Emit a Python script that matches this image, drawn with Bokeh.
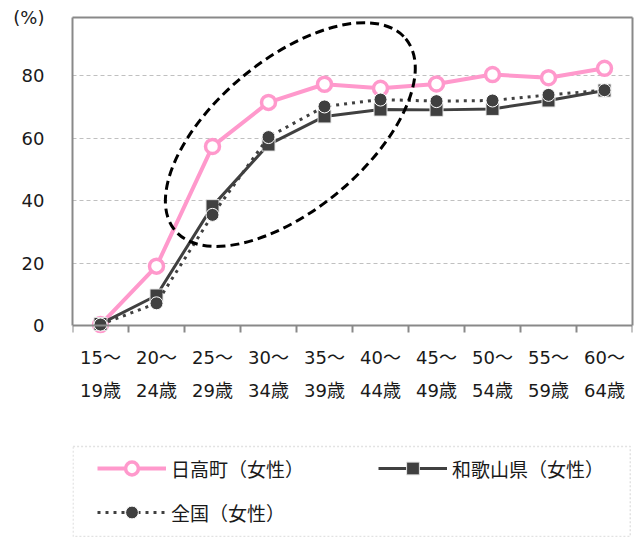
from bokeh.plotting import figure
from bokeh.models import (Range1d, FixedTicker, LinearAxis, Legend, LegendItem,
                          BoxAnnotation, Grid)
from bokeh.embed import file_html
from bokeh.resources import INLINE

# ---- data -------------------------------------------------------------
age_from = ["15～", "20～", "25～", "30～", "35～", "40～", "45～", "50～", "55～", "60～"]
age_to = ["19歳", "24歳", "29歳", "34歳", "39歳", "44歳", "49歳", "54歳", "59歳", "64歳"]
hidaka = [0.3, 19.0, 57.3, 71.4, 77.2, 75.9, 77.3, 80.3, 79.3, 82.3]
wakayama = [0.5, 9.6, 38.2, 57.9, 66.9, 69.1, 69.0, 69.3, 72.0, 75.2]
zenkoku = [0.3, 7.1, 35.4, 60.3, 70.1, 72.3, 71.8, 72.0, 73.8, 75.3]
y_ticks = [0, 20, 40, 60, 80]
series_names = ["日高町（女性）", "和歌山県（女性）", "全国（女性）"]
unit_label = "(%)"

# ---- style ------------------------------------------------------------
PINK = "#ff99cc"
DARK = "#404040"
AXIS = "#898989"
TXT = "#1a1a1a"
NUM_FONT = "DejaVu Sans, Noto Sans CJK JP"
JP_FONT = "Noto Sans CJK JP"
FS = "18px"

Y_TOP = 98.56      # value at the top border of the plot area
Y_BOTTOM = -67.84  # extra room below the axis for tick labels and legend

n = len(age_from)
x = list(range(n))

p = figure(width=635, height=537, output_backend="svg", toolbar_location=None,
           x_range=Range1d(-0.5, n - 0.5), y_range=Range1d(Y_BOTTOM, Y_TOP),
           x_axis_type=None, y_axis_type=None,
           min_border_left=72, min_border_right=3, min_border_top=17,
           min_border_bottom=0)
p.outline_line_color = None
p.background_fill_color = "white"
p.border_fill_color = "white"

# y axis (the unit label sits at the top of the axis)
unit_tick = Y_TOP - 0.06
yaxis = LinearAxis(ticker=FixedTicker(ticks=y_ticks + [unit_tick], minor_ticks=[]),
                   bounds=(0, Y_TOP))
yaxis.axis_line_color = AXIS
yaxis.axis_line_width = 2
yaxis.major_tick_line_color = None
yaxis.major_tick_out = 0
yaxis.major_tick_in = 0
yaxis.minor_tick_line_color = None
yaxis.major_label_standoff = 28
yaxis.major_label_overrides = {unit_tick: unit_label}
yaxis.major_label_text_font = NUM_FONT
yaxis.major_label_text_font_size = FS
yaxis.major_label_text_color = TXT
p.add_layout(yaxis, "left")

# right and top borders of the plot area
raxis = LinearAxis(ticker=FixedTicker(ticks=[], minor_ticks=[]), bounds=(0, Y_TOP))
raxis.axis_line_color = AXIS
raxis.axis_line_width = 2
raxis.major_tick_line_color = None
raxis.minor_tick_line_color = None
p.add_layout(raxis, "right")

taxis = LinearAxis(ticker=FixedTicker(ticks=[], minor_ticks=[]))
taxis.axis_line_color = AXIS
taxis.axis_line_width = 2
taxis.major_tick_line_color = None
taxis.minor_tick_line_color = None
p.add_layout(taxis, "above")

p.add_layout(Grid(dimension=1, ticker=FixedTicker(ticks=y_ticks[1:]),
                  grid_line_color="#c0c0c0", grid_line_dash="4 3",
                  grid_line_width=1))

# x axis at y = 0 (first line of labels + boundary ticks)
bounds = [i - 0.5 for i in range(n + 1)]
xaxis1 = LinearAxis(ticker=FixedTicker(ticks=x, minor_ticks=bounds), fixed_location=0)
xaxis1.axis_line_color = AXIS
xaxis1.axis_line_width = 2
xaxis1.major_tick_line_color = None
xaxis1.major_tick_out = 7
xaxis1.major_tick_in = 0
xaxis1.minor_tick_line_color = AXIS
xaxis1.minor_tick_line_width = 2
xaxis1.minor_tick_out = 7
xaxis1.minor_tick_in = 0
xaxis1.major_label_standoff = 14
xaxis1.major_label_overrides = {i: s for i, s in zip(x, age_from)}
xaxis1.major_label_text_font = NUM_FONT
xaxis1.major_label_text_font_size = FS
xaxis1.major_label_text_color = TXT
p.add_layout(xaxis1, "below")

# second line of labels
xaxis2 = LinearAxis(ticker=FixedTicker(ticks=x, minor_ticks=[]), fixed_location=0)
xaxis2.axis_line_color = None
xaxis2.major_tick_line_color = None
xaxis2.minor_tick_line_color = None
xaxis2.major_tick_out = 0
xaxis2.major_tick_in = 0
xaxis2.major_label_standoff = 54
xaxis2.major_label_overrides = {i: s for i, s in zip(x, age_to)}
xaxis2.major_label_text_font = NUM_FONT
xaxis2.major_label_text_font_size = FS
xaxis2.major_label_text_color = TXT
p.add_layout(xaxis2, "below")

# ---- series -----------------------------------------------------------
l1 = p.line(x, hidaka, line_color=PINK, line_width=4)
s1 = p.scatter(x, hidaka, marker="circle", size=14, fill_color="white",
               line_color=PINK, line_width=3.5)
l2 = p.line(x, wakayama, line_color=DARK, line_width=3)
s2 = p.scatter(x, wakayama, marker="square", size=13, fill_color=DARK,
               line_color="#e6e6e6", line_width=1)
l3 = p.line(x, zenkoku, line_color=DARK, line_width=3, line_dash="3 5")
s3 = p.scatter(x, zenkoku, marker="circle", size=13, fill_color=DARK,
               line_color="white", line_width=1)

# highlight ellipse
hl_x, hl_y = 3.39, 61.1
p.ellipse(x=[hl_x], y=[hl_y], width=300, height=150, width_units="screen",
          height_units="screen", angle=0.693, fill_alpha=0, line_color="black",
          line_width=3, line_dash="9 5")

# ---- legend -----------------------------------------------------------
p.add_layout(BoxAnnotation(left=-0.49, right=9.46, top=-38.72, bottom=-67.5,
                           fill_alpha=0, line_color="#a0a0a0", line_width=1.5,
                           line_dash="2 2"))


def make_legend(items, loc):
    return Legend(items=items, location=loc, orientation="vertical",
                  glyph_width=69, glyph_height=32, label_height=32,
                  label_standoff=5, spacing=12, padding=0, margin=0,
                  border_line_color=None, background_fill_alpha=0,
                  label_text_font=JP_FONT, label_text_font_size="19px",
                  label_text_color=TXT)


leg1 = make_legend([LegendItem(label=series_names[0], renderers=[l1, s1]),
                    LegendItem(label=series_names[2], renderers=[l3, s3])],
                   (25, 9))
leg2 = make_legend([LegendItem(label=series_names[1], renderers=[l2, s2])],
                   (306, 53))
p.add_layout(leg1, "center")
p.add_layout(leg2, "center")

open("out.html", "w").write(file_html(p, INLINE))
